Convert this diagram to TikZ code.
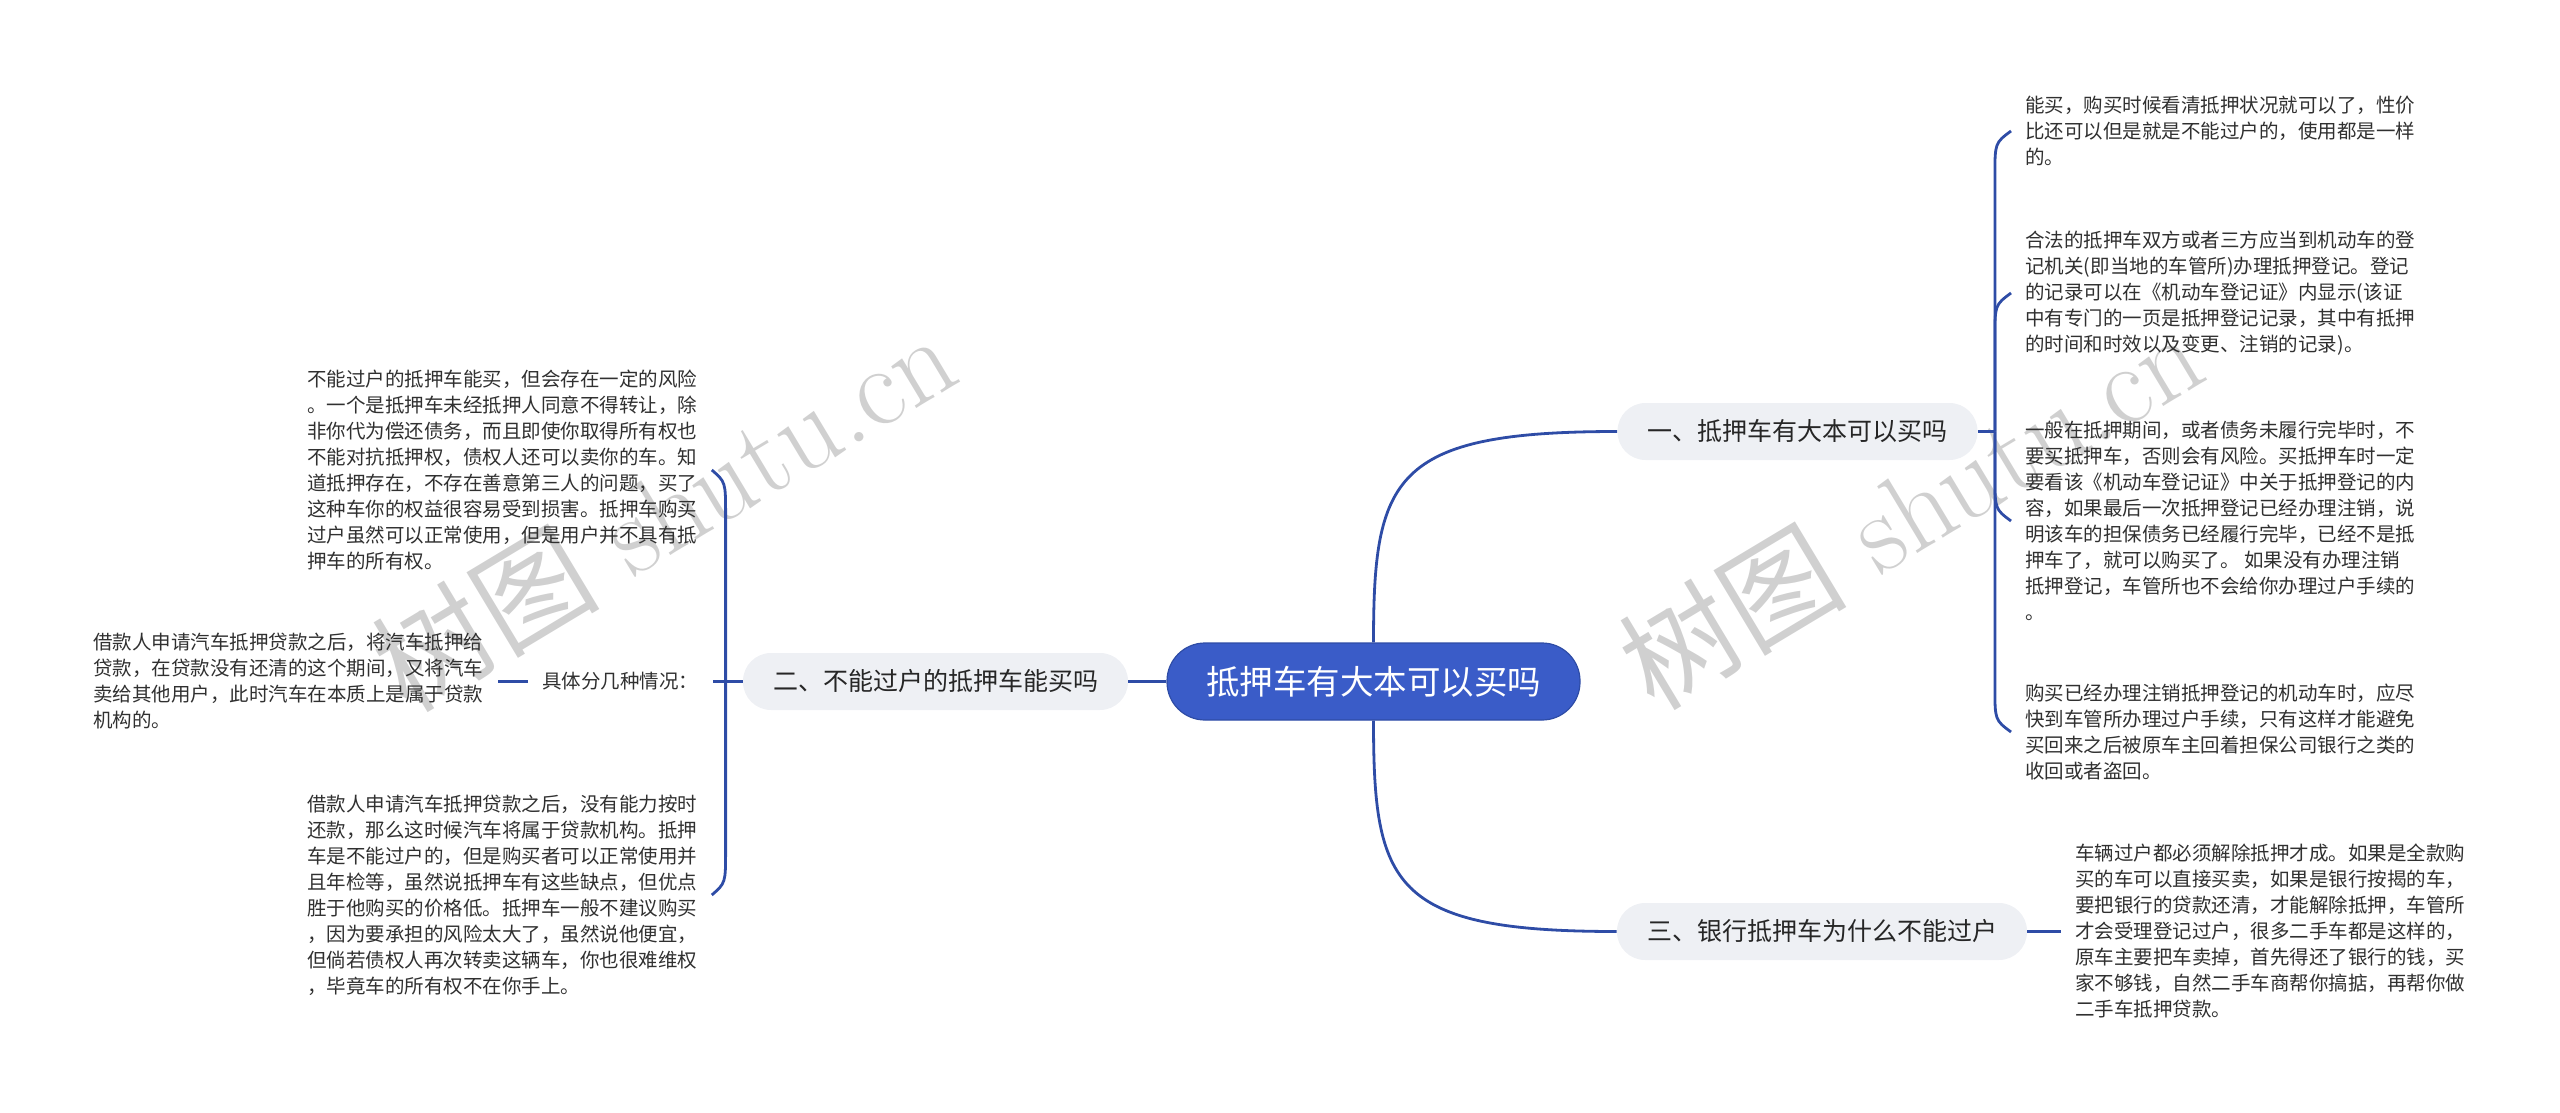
\documentclass[tikz,border=0pt]{standalone}
\usepackage{fontspec}
\newfontfamily\cjk{Noto Sans CJK SC}
\usetikzlibrary{calc}
\definecolor{linec}{HTML}{2E4CA6}
\definecolor{rootc}{HTML}{3A5CC8}
\definecolor{branchc}{HTML}{EEF0F4}
\definecolor{txtc}{HTML}{303030}
\definecolor{wmc}{HTML}{D0D0D0}
\begin{document}
\begin{tikzpicture}[x=0.5pt,y=-0.5pt,
  conn/.style={draw=linec,line width=1.4pt},
  root/.style={fill=rootc,draw=linec,line width=0.6pt,rounded corners=19pt,minimum height=38.5pt,inner xsep=19.5pt,inner ysep=0pt,text=white,font=\cjk\fontsize{16.75pt}{18pt}\selectfont},
  branch/.style={fill=branchc,rounded corners=14pt,minimum height=28.5pt,inner xsep=15pt,inner ysep=0pt,text=black!85,font=\cjk\fontsize{12.5pt}{14pt}\selectfont},
  txtnode/.style={align=left,inner xsep=7pt,inner ysep=0pt,text=txtc,font=\cjk\fontsize{9.75pt}{13pt}\selectfont},
  wmark/.style={text=wmc,rotate=31,inner sep=0pt,font=\fontsize{57pt}{60pt}\selectfont}
]
\useasboundingbox (0,0) rectangle (2560,1113);

% watermarks
\node[wmark] (w1) at (663,510) {{\cjk 树图}\ shutu.cn};
\node[wmark] (w2) at (1910,508) {{\cjk 树图}\ shutu.cn};

% root and branches
\node[root] (c) at (1373.5,681.5) {抵押车有大本可以买吗};
\node[branch] (b1) at (1797.5,431.5) {一、抵押车有大本可以买吗};
\node[branch] (b2) at (935.5,681.5) {二、不能过户的抵押车能买吗};
\node[branch] (b3) at (1822,931.5) {三、银行抵押车为什么不能过户};

% left side
\node[txtnode,anchor=west] (l1) at (293,470) {不能过户的抵押车能买，但会存在一定的风险\\。一个是抵押车未经抵押人同意不得转让，除\\非你代为偿还债务，而且即使你取得所有权也\\不能对抗抵押权，债权人还可以卖你的车。知\\道抵押存在，不存在善意第三人的问题，买了\\这种车你的权益很容易受到损害。抵押车购买\\过户虽然可以正常使用，但是用户并不具有抵\\押车的所有权。};
\node[txtnode,anchor=west] (mid) at (528,681.5) {具体分几种情况：};
\node[txtnode,anchor=west] (l2) at (79,681.5) {借款人申请汽车抵押贷款之后，将汽车抵押给\\贷款，在贷款没有还清的这个期间，又将汽车\\卖给其他用户，此时汽车在本质上是属于贷款\\机构的。};
\node[txtnode,anchor=west] (l3) at (293,895) {借款人申请汽车抵押贷款之后，没有能力按时\\还款，那么这时候汽车将属于贷款机构。抵押\\车是不能过户的，但是购买者可以正常使用并\\且年检等，虽然说抵押车有这些缺点，但优点\\胜于他购买的价格低。抵押车一般不建议购买\\，因为要承担的风险太大了，虽然说他便宜，\\但倘若债权人再次转卖这辆车，你也很难维权\\，毕竟车的所有权不在你手上。};

% right side
\node[txtnode,anchor=west] (r1) at (2011,131) {能买，购买时候看清抵押状况就可以了，性价\\比还可以但是就是不能过户的，使用都是一样\\的。};
\node[txtnode,anchor=west] (r2) at (2011,293) {合法的抵押车双方或者三方应当到机动车的登\\记机关(即当地的车管所)办理抵押登记。登记\\的记录可以在《机动车登记证》内显示(该证\\中有专门的一页是抵押登记记录，其中有抵押\\的时间和时效以及变更、注销的记录)。};
\node[txtnode,anchor=west] (r3) at (2011,521) {一般在抵押期间，或者债务未履行完毕时，不\\要买抵押车，否则会有风险。买抵押车时一定\\要看该《机动车登记证》中关于抵押登记的内\\容，如果最后一次抵押登记已经办理注销，说\\明该车的担保债务已经履行完毕，已经不是抵\\押车了，就可以购买了。 如果没有办理注销\\抵押登记，车管所也不会给你办理过户手续的\\。};
\node[txtnode,anchor=west] (r4) at (2011,732) {购买已经办理注销抵押登记的机动车时，应尽\\快到车管所办理过户手续，只有这样才能避免\\买回来之后被原车主回着担保公司银行之类的\\收回或者盗回。};
\node[txtnode,anchor=west] (r5) at (2061,931.5) {车辆过户都必须解除抵押才成。如果是全款购\\买的车可以直接买卖，如果是银行按揭的车，\\要把银行的贷款还清，才能解除抵押，车管所\\才会受理登记过户，很多二手车都是这样的，\\原车主要把车卖掉，首先得还了银行的钱，买\\家不够钱，自然二手车商帮你搞掂，再帮你做\\二手车抵押贷款。};

% root connectors
\draw[conn] (c.west) -- (b2.east);
\draw[conn] (c.north) .. controls ($(c.north)+(0,-165)$) and ($(b1.west)+(-225,0)$) .. (b1.west);
\draw[conn] (c.south) .. controls ($(c.south)+(0,165)$) and ($(b3.west)+(-225,0)$) .. (b3.west);

% branch 2 connectors
\coordinate (s2) at ($(b2.west)+(-17,0)$);
\draw[conn] (b2.west) -- (mid.east);
\draw[conn] (s2) -- ($(s2 |- l1.east)+(0,45)$) .. controls ($(s2 |- l1.east)+(0,12)$) .. (l1.east);
\draw[conn] (s2) -- ($(s2 |- l3.east)+(0,-45)$) .. controls ($(s2 |- l3.east)+(0,-12)$) .. (l3.east);
\draw[conn] (mid.west) -- (l2.east);

% branch 1 connectors
\coordinate (s1) at ($(b1.east)+(17,0)$);
\draw[conn] (b1.east) -- (s1);
\draw[conn] (s1) -- ($(s1 |- r1.west)+(0,45)$) .. controls ($(s1 |- r1.west)+(0,12)$) .. (r1.west);
\draw[conn] (s1) -- ($(s1 |- r2.west)+(0,45)$) .. controls ($(s1 |- r2.west)+(0,12)$) .. (r2.west);
\draw[conn] (s1) -- ($(s1 |- r3.west)+(0,-45)$) .. controls ($(s1 |- r3.west)+(0,-12)$) .. (r3.west);
\draw[conn] (s1) -- ($(s1 |- r4.west)+(0,-45)$) .. controls ($(s1 |- r4.west)+(0,-12)$) .. (r4.west);

% branch 3 connector
\draw[conn] (b3.east) -- (r5.west);
\end{tikzpicture}
\end{document}
